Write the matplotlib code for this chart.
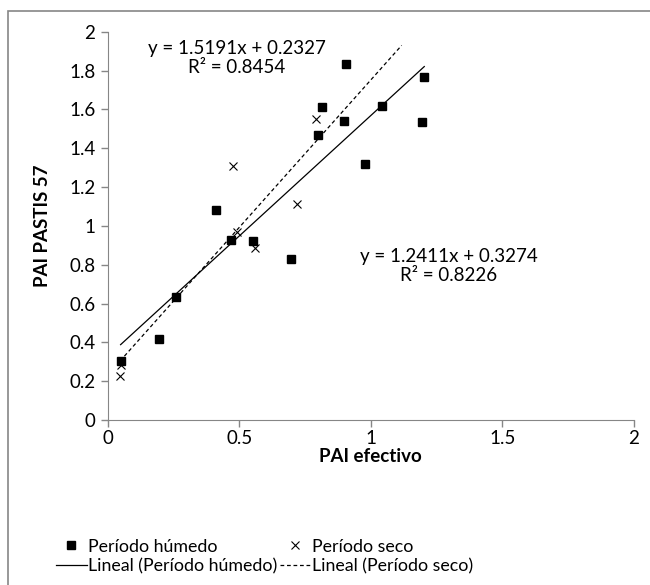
import matplotlib
matplotlib.use('Agg')
import matplotlib.pyplot as plt
import numpy as np
from matplotlib.patches import Rectangle

plt.rcParams['font.family'] = ['Lato', 'DejaVu Sans']

# Período húmedo (cuadrados)
humedo_x = [0.049, 0.195, 0.261, 0.411, 0.470, 0.551, 0.698, 0.801, 0.815, 0.898, 0.906, 0.976, 1.043, 1.194, 1.203]
humedo_y = [0.305, 0.415, 0.635, 1.083, 0.928, 0.920, 0.831, 1.468, 1.610, 1.541, 1.833, 1.320, 1.615, 1.536, 1.768]

# Período seco (cruces)
seco_x = [0.047, 0.050, 0.476, 0.490, 0.558, 0.720, 0.792]
seco_y = [0.228, 0.285, 1.308, 0.966, 0.887, 1.115, 1.551]

# líneas de tendencia (pendiente, ordenada, rango x)
hum_coef = (1.2411, 0.3274)
hum_rango = [0.049, 1.203]
seco_coef = (1.5191, 0.2327)
seco_rango = [0.047, 1.117]

gris = '#868686'
fs = 13.5

fig = plt.figure(figsize=(6.5, 5.85), dpi=100)
ax = fig.add_axes([0.1657, 0.282, 0.8097, 0.6638])

l_hum, = ax.plot(humedo_x, humedo_y, linestyle='none', marker='s', ms=5.5, color='black', label='Período húmedo')
l_seco, = ax.plot(seco_x, seco_y, linestyle='none', marker='x', ms=6, mew=0.8, color='black', label='Período seco')

xh = np.array(hum_rango)
t_hum, = ax.plot(xh, hum_coef[0] * xh + hum_coef[1], color='black', lw=0.9, label='Lineal (Período húmedo)')
xs = np.array(seco_rango)
t_seco, = ax.plot(xs, seco_coef[0] * xs + seco_coef[1], color='black', lw=0.9, ls=(0, (3, 2.2)), label='Lineal (Período seco)')

ax.text(0.49, 1.864, 'y = 1.5191x + 0.2327\nR² = 0.8454', ha='center', va='center', fontsize=fs, linespacing=1.15)
ax.text(1.297, 0.793, 'y = 1.2411x + 0.3274\nR² = 0.8226', ha='center', va='center', fontsize=fs, linespacing=1.15)

ax.set_xlim(0, 2)
ax.set_ylim(0, 2)
ax.set_xticks([0, 0.5, 1, 1.5, 2])
ax.set_xticklabels(['0', '0.5', '1', '1.5', '2'])
ax.set_yticks(np.arange(0, 2.01, 0.2))
ax.set_yticklabels(['0', '0.2', '0.4', '0.6', '0.8', '1', '1.2', '1.4', '1.6', '1.8', '2'])
ax.tick_params(direction='out', length=5, width=1, color=gris, labelsize=fs)
ax.tick_params(axis='x', pad=2)
ax.tick_params(axis='y', pad=4)
for s in ['top', 'right']:
    ax.spines[s].set_visible(False)
for s in ['left', 'bottom']:
    ax.spines[s].set_color(gris)
ax.set_xlabel('PAI efectivo', fontsize=fs, fontweight='bold', labelpad=1)
ax.set_ylabel('PAI PASTIS 57', fontsize=fs, fontweight='bold')
ax.yaxis.set_label_coords(-0.108, 0.5)

fig.legend(handles=[l_hum, t_hum, l_seco, t_seco], ncol=2, loc='center', bbox_to_anchor=(0.407, 0.0487),
           frameon=False, fontsize=12.8, handlelength=1.75, handletextpad=0.1, columnspacing=0.1, labelspacing=0.2,
           borderpad=0.2)

fig.patches.append(Rectangle((8 / 650, -0.1), 1.2, 1 - 11 / 585 + 0.1, transform=fig.transFigure,
                             fill=False, edgecolor=gris, lw=1.2))

fig.savefig('out.png', dpi=100)
